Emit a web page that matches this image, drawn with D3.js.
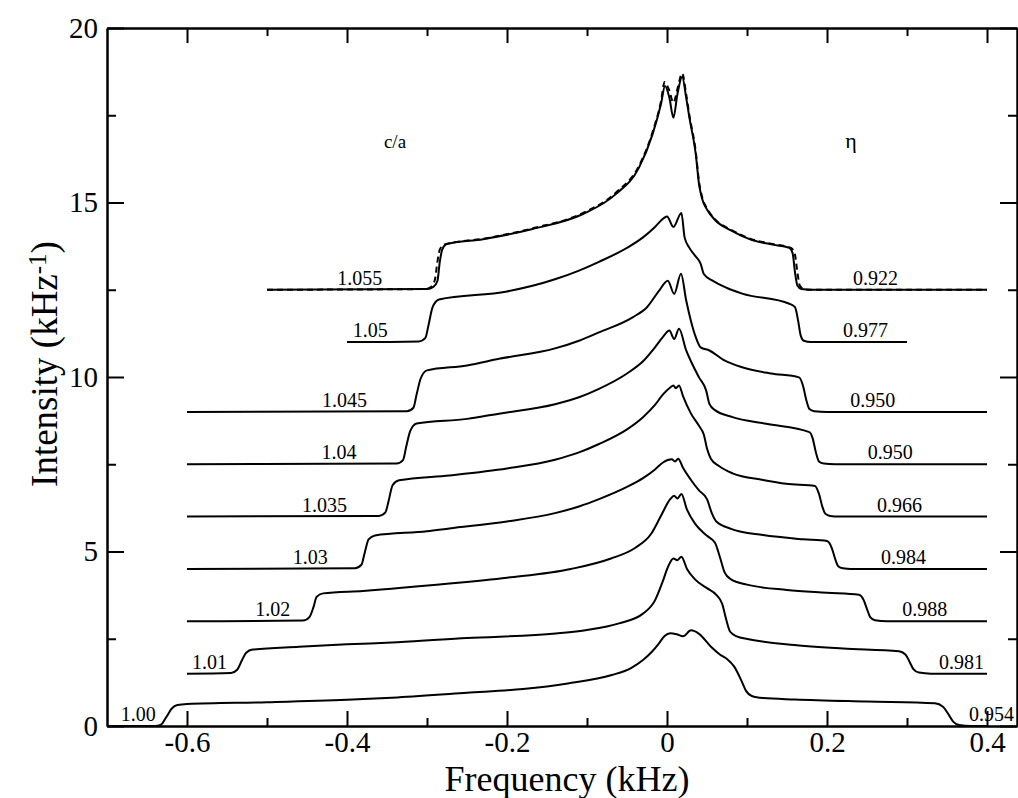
<!DOCTYPE html>
<html>
<head>
<meta charset="utf-8">
<script src="https://cdn.jsdelivr.net/npm/d3@7/dist/d3.min.js"></script>
<style>
  body { margin: 0; background: #fff; }
  text { font-family: "Liberation Serif", "Times New Roman", serif; fill: #000; }
</style>
</head>
<body>
<div id="chart"></div>
<script>

// c/a values, eta values and the vertical offset of each trace
var caValues = ["1.00", "1.01", "1.02", "1.03", "1.035", "1.04", "1.045", "1.05", "1.055"];
var etaValues = ["0.954", "0.981", "0.988", "0.984", "0.966", "0.950", "0.950", "0.977", "0.922"];
var offsets = [0, 1.5, 3, 4.5, 6, 7.5, 9, 11, 12.5];

// traces: [frequency kHz, intensity above the trace's own baseline]
var ca100 = [[-0.70,0],[-0.64,0],[-0.633,0.03],[-0.626,0.25],[-0.619,0.5],[-0.612,0.6],[-0.6,0.63],[-0.5,0.68],[-0.4,0.75],[-0.337,0.82],[-0.25,0.95],[-0.18,1.06],[-0.124,1.22],[-0.069,1.46],[-0.045,1.66],[-0.03,1.89],[-0.018,2.15],[-0.01,2.37],[-0.003,2.58],[0.004,2.66],[0.012,2.63],[0.02,2.57],[0.03,2.74],[0.04,2.64],[0.055,2.27],[0.066,2.05],[0.075,1.92],[0.084,1.7],[0.093,1.3],[0.099,1.0],[0.106,0.86],[0.12,0.8],[0.16,0.76],[0.25,0.7],[0.335,0.65],[0.345,0.55],[0.352,0.33],[0.358,0.12],[0.365,0.03],[0.38,0],[0.40,0]];
var ca101 = [[-0.6,0],[-0.545,0.02],[-0.537,0.12],[-0.531,0.4],[-0.526,0.6],[-0.518,0.69],[-0.46,0.77],[-0.4,0.84],[-0.337,0.9],[-0.25,1.02],[-0.139,1.15],[-0.1,1.25],[-0.06,1.44],[-0.03,1.72],[-0.015,2.1],[-0.006,2.6],[0.002,3.1],[0.008,3.3],[0.013,3.25],[0.018,3.35],[0.025,3.0],[0.035,2.7],[0.05,2.45],[0.062,2.25],[0.069,2.0],[0.074,1.55],[0.079,1.2],[0.088,1.06],[0.099,1.0],[0.159,0.82],[0.22,0.72],[0.29,0.64],[0.298,0.55],[0.303,0.35],[0.308,0.13],[0.315,0.03],[0.33,0],[0.4,0]];
var ca102 = [[-0.6,0],[-0.455,0.02],[-0.447,0.12],[-0.442,0.4],[-0.438,0.7],[-0.43,0.8],[-0.38,0.87],[-0.272,1.08],[-0.2,1.25],[-0.12,1.5],[-0.07,1.8],[-0.04,2.1],[-0.02,2.5],[-0.008,3.0],[0.004,3.5],[0.009,3.6],[0.013,3.52],[0.018,3.65],[0.025,3.2],[0.035,2.8],[0.05,2.45],[0.06,2.25],[0.066,1.85],[0.072,1.4],[0.08,1.2],[0.1,1.05],[0.15,0.9],[0.2,0.82],[0.24,0.76],[0.246,0.6],[0.25,0.35],[0.254,0.12],[0.26,0.03],[0.275,0],[0.4,0]];
var ca103 = [[-0.6,0],[-0.39,0.02],[-0.382,0.12],[-0.378,0.45],[-0.373,0.85],[-0.365,0.96],[-0.3,1.08],[-0.272,1.16],[-0.2,1.36],[-0.14,1.6],[-0.11,1.79],[-0.085,2.0],[-0.05,2.35],[-0.03,2.6],[-0.015,2.85],[-0.005,3.05],[0.006,3.14],[0.01,3.08],[0.014,3.16],[0.02,2.9],[0.03,2.55],[0.04,2.25],[0.05,2.0],[0.056,1.6],[0.062,1.35],[0.08,1.15],[0.12,0.97],[0.17,0.85],[0.2,0.8],[0.206,0.6],[0.21,0.3],[0.214,0.08],[0.22,0.02],[0.23,0],[0.4,0]];
var ca1035 = [[-0.6,0],[-0.36,0.02],[-0.352,0.12],[-0.348,0.45],[-0.343,0.9],[-0.335,1.04],[-0.272,1.18],[-0.2,1.38],[-0.14,1.63],[-0.11,1.84],[-0.085,2.08],[-0.05,2.5],[-0.03,2.85],[-0.015,3.2],[-0.005,3.5],[0.004,3.7],[0.008,3.76],[0.011,3.68],[0.015,3.76],[0.02,3.45],[0.03,2.95],[0.04,2.6],[0.046,2.35],[0.05,1.95],[0.055,1.65],[0.065,1.45],[0.082,1.24],[0.12,1.05],[0.149,0.94],[0.185,0.88],[0.19,0.65],[0.194,0.3],[0.198,0.08],[0.204,0.02],[0.215,0],[0.4,0]];
var ca104 = [[-0.6,0],[-0.338,0.02],[-0.33,0.12],[-0.326,0.5],[-0.321,0.95],[-0.313,1.17],[-0.25,1.3],[-0.21,1.45],[-0.14,1.72],[-0.11,1.92],[-0.085,2.16],[-0.05,2.6],[-0.03,2.95],[-0.015,3.35],[-0.005,3.65],[0.003,3.83],[0.009,3.59],[0.015,3.88],[0.024,3.26],[0.032,2.85],[0.04,2.49],[0.049,2.11],[0.053,1.73],[0.06,1.55],[0.082,1.35],[0.124,1.16],[0.178,0.92],[0.182,0.75],[0.186,0.35],[0.19,0.08],[0.196,0.02],[0.21,0],[0.4,0]];
var ca1045 = [[-0.6,0],[-0.325,0.02],[-0.317,0.12],[-0.313,0.5],[-0.308,0.95],[-0.3,1.19],[-0.25,1.33],[-0.21,1.52],[-0.14,1.82],[-0.11,2.04],[-0.085,2.28],[-0.043,2.71],[-0.025,3.0],[-0.01,3.47],[0.001,3.76],[0.009,3.38],[0.0175,3.96],[0.024,3.19],[0.03,2.6],[0.036,2.14],[0.042,1.85],[0.053,1.76],[0.07,1.5],[0.094,1.28],[0.13,1.1],[0.165,0.99],[0.17,0.75],[0.174,0.35],[0.178,0.08],[0.184,0.02],[0.2,0],[0.4,0]];
var ca105 = [[-0.4,0],[-0.31,0.02],[-0.302,0.12],[-0.298,0.5],[-0.293,1.0],[-0.285,1.22],[-0.2,1.45],[-0.14,1.8],[-0.11,2.05],[-0.085,2.3],[-0.05,2.7],[-0.03,3.0],[-0.015,3.3],[-0.004,3.55],[0.0,3.6],[0.008,3.3],[0.018,3.7],[0.022,3.0],[0.028,2.7],[0.036,2.45],[0.042,2.25],[0.046,1.95],[0.057,1.76],[0.075,1.55],[0.094,1.39],[0.153,1.1],[0.16,1.0],[0.164,0.6],[0.167,0.2],[0.171,0.04],[0.18,0],[0.3,0]];
var ca1055 = [[-0.5,0],[-0.3,0.02],[-0.292,0.08],[-0.287,0.25],[-0.284,0.8],[-0.281,1.15],[-0.276,1.3],[-0.23,1.45],[-0.168,1.74],[-0.105,2.17],[-0.064,2.74],[-0.035,3.5],[-0.018,4.46],[-0.0075,5.32],[-0.0025,5.84],[0.003,5.5],[0.008,4.93],[0.013,5.6],[0.019,6.1],[0.024,5.5],[0.028,4.93],[0.036,3.88],[0.04,3.03],[0.044,2.6],[0.05,2.3],[0.06,2.0],[0.08,1.7],[0.103,1.45],[0.13,1.3],[0.153,1.2],[0.157,1.05],[0.16,0.5],[0.163,0.12],[0.168,0.02],[0.18,0],[0.4,0]];
var ca1055dash = [[-0.5,0],[-0.302,0.02],[-0.295,0.08],[-0.29,0.3],[-0.287,0.8],[-0.284,1.15],[-0.278,1.3],[-0.23,1.46],[-0.168,1.76],[-0.105,2.2],[-0.064,2.78],[-0.035,3.55],[-0.018,4.52],[-0.0075,5.4],[-0.003,5.95],[0.003,5.7],[0.008,5.36],[0.013,5.75],[0.019,6.2],[0.024,5.6],[0.028,5.0],[0.036,3.95],[0.04,3.1],[0.044,2.65],[0.05,2.33],[0.06,2.02],[0.08,1.72],[0.103,1.47],[0.13,1.32],[0.155,1.2],[0.16,1.0],[0.163,0.5],[0.166,0.12],[0.171,0.02],[0.18,0],[0.4,0]];

var traces = [ca100, ca101, ca102, ca103, ca1035, ca104, ca1045, ca105, ca1055];

// where the small labels sit (kHz): right end of c/a label, left start of eta label
var caLabelX = [-0.639, -0.55, -0.471, -0.424, -0.4, -0.388, -0.375, -0.349, -0.356];
var etaLabelX = [0.3775, 0.34, 0.294, 0.2675, 0.2625, 0.251, 0.229, 0.22, 0.2325];

var xMajor = [-0.6, -0.4, -0.2, 0, 0.2, 0.4];
var xTickLabels = ["-0.6", "-0.4", "-0.2", "0", "0.2", "0.4"];
var xMinor = [-0.5, -0.3, -0.1, 0.1, 0.3];
var yMajor = [0, 5, 10, 15, 20];
var yTickLabels = ["0", "5", "10", "15", "20"];
var yMinor = [2.5, 7.5, 12.5, 17.5];

var svgWidth = 1018;
var svgHeight = 798;

var margin = {
  top: 28,
  bottom: 72,
  right: 1,
  left: 107
};

var width = svgWidth - margin.left - margin.right;
var height = svgHeight - margin.top - margin.bottom;

var svg = d3.select("#chart")
  .append("svg")
  .attr("width", svgWidth)
  .attr("height", svgHeight);

var chartGroup = svg.append("g")
  .attr("transform", `translate(${margin.left}, ${margin.top})`);

var xScale = d3.scaleLinear().domain([-0.7, 0.4375]).range([0, width]);
var yScale = d3.scaleLinear().domain([0, 20]).range([height, 0]);

// axes, ticks pointing inwards on all four sides
chartGroup.append("g")
  .attr("class", "axis")
  .attr("transform", `translate(0, ${height})`)
  .call(d3.axisBottom(xScale).tickValues(xMajor).tickSizeInner(-15).tickSizeOuter(0)
    .tickPadding(5).tickFormat((d, i) => xTickLabels[i]));

chartGroup.append("g")
  .attr("class", "axis")
  .attr("transform", `translate(0, ${height})`)
  .call(d3.axisBottom(xScale).tickValues(xMinor).tickSizeInner(-8).tickSizeOuter(0).tickFormat(""));

chartGroup.append("g")
  .attr("class", "axis")
  .call(d3.axisTop(xScale).tickValues(xMajor).tickSizeInner(-15).tickSizeOuter(0).tickFormat(""));

chartGroup.append("g")
  .attr("class", "axis")
  .call(d3.axisTop(xScale).tickValues(xMinor).tickSizeInner(-8).tickSizeOuter(0).tickFormat(""));

chartGroup.append("g")
  .attr("class", "axis")
  .call(d3.axisLeft(yScale).tickValues(yMajor).tickSizeInner(-17).tickSizeOuter(0)
    .tickPadding(9).tickFormat((d, i) => yTickLabels[i]));

chartGroup.append("g")
  .attr("class", "axis")
  .call(d3.axisLeft(yScale).tickValues(yMinor).tickSizeInner(-9).tickSizeOuter(0).tickFormat(""));

chartGroup.append("g")
  .attr("class", "axis")
  .attr("transform", `translate(${width}, 0)`)
  .call(d3.axisRight(yScale).tickValues(yMajor).tickSizeInner(-17).tickSizeOuter(0).tickFormat(""));

chartGroup.append("g")
  .attr("class", "axis")
  .attr("transform", `translate(${width}, 0)`)
  .call(d3.axisRight(yScale).tickValues(yMinor).tickSizeInner(-9).tickSizeOuter(0).tickFormat(""));

chartGroup.selectAll(".axis path, .axis line")
  .attr("stroke", "#000")
  .attr("stroke-width", 2);

chartGroup.selectAll(".axis text")
  .attr("font-size", "29px")
  .style("font-family", "'Liberation Serif', serif");

// traces
traces.forEach(function(tr, i) {
  var line = d3.line()
    .x(d => xScale(d[0]))
    .y(d => yScale(d[1] + offsets[i]))
    .curve(d3.curveMonotoneX);

  chartGroup.append("path")
    .datum(tr)
    .attr("d", line)
    .attr("fill", "none")
    .attr("stroke", "#000")
    .attr("stroke-width", 2)
    .attr("stroke-linejoin", "round");

  chartGroup.append("text")
    .attr("x", xScale(caLabelX[i]))
    .attr("y", yScale(offsets[i]) - 5)
    .attr("text-anchor", "end")
    .attr("font-size", "20px")
    .text(caValues[i]);

  chartGroup.append("text")
    .attr("x", xScale(etaLabelX[i]))
    .attr("y", yScale(offsets[i]) - 5)
    .attr("text-anchor", "start")
    .attr("font-size", "20px")
    .text(etaValues[i]);
});

// dashed trace for c/a = 1.055
var dashLine = d3.line()
  .x(d => xScale(d[0]))
  .y(d => yScale(d[1] + offsets[8]))
  .curve(d3.curveMonotoneX);

chartGroup.append("path")
  .datum(ca1055dash)
  .attr("d", dashLine)
  .attr("fill", "none")
  .attr("stroke", "#000")
  .attr("stroke-width", 2)
  .attr("stroke-dasharray", "6,4");

// column headers
chartGroup.append("text")
  .attr("x", xScale(-0.34))
  .attr("y", 120)
  .attr("text-anchor", "middle")
  .attr("font-size", "19px")
  .text("c/a");

chartGroup.append("text")
  .attr("x", xScale(0.23))
  .attr("y", 120)
  .attr("text-anchor", "middle")
  .attr("font-size", "22px")
  .text("η");

// axis titles
svg.append("text")
  .attr("x", 567)
  .attr("y", 791)
  .attr("text-anchor", "middle")
  .attr("font-size", "36px")
  .text("Frequency (kHz)");

var yTitle = svg.append("text")
  .attr("transform", "translate(57, 364) rotate(-90)")
  .attr("text-anchor", "middle")
  .attr("font-size", "37px");
yTitle.append("tspan").text("Intensity (kHz");
yTitle.append("tspan").attr("dy", "-0.45em").attr("font-size", "25px").text("-1");
yTitle.append("tspan").attr("dy", "0.3em").text(")");

</script>
</body>
</html>
